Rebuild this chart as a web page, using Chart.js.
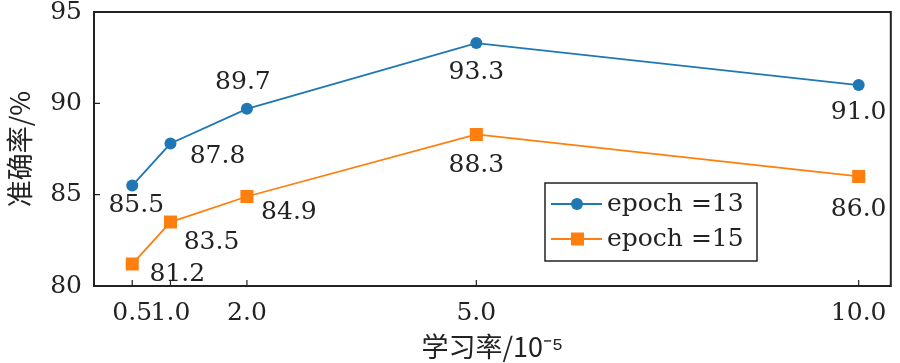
<!DOCTYPE html>
<html>
<head>
<meta charset="utf-8">
<script src="https://cdn.jsdelivr.net/npm/chart.js@4.4.1/dist/chart.umd.min.js"></script>
<style>
  html, body { margin: 0; padding: 0; background: #fff; }
  #wrap { width: 900px; height: 363px; }
</style>
</head>
<body>
<div id="wrap"><canvas id="accChart" width="900" height="363"></canvas></div>
<script>
// learning rate (x 10^-5) and accuracy per epoch setting
const learningRates = [0.5, 1.0, 2.0, 5.0, 10.0];
const epoch13 = [85.5, 87.8, 89.7, 93.3, 91.0];
const epoch15 = [81.2, 83.5, 84.9, 88.3, 86.0];
const xTickValues = [0.5, 1.0, 2.0, 5.0, 10.0];
const yTickValues = [80, 85, 90, 95];

// where each value label sits relative to its point (px)
const labelOffsets13 = [[4, 20], [47, 13], [-4, -26], [0, 29], [0, 27]];
const labelOffsets15 = [[45, 10], [41, 20], [42, 16], [0, 31], [0, 33]];

const serif = '"DejaVu Serif", serif';
const cjk = '"Noto Sans CJK SC", sans-serif';
const blue = '#1f77b4';
const orange = '#ff7f0e';

function toPoints(ys) {
  return learningRates.map((x, i) => ({ x: x, y: ys[i] }));
}

const framePlugin = {
  id: 'frame',
  afterDatasetsDraw(chart) {
    const ctx = chart.ctx;
    const offsets = [labelOffsets13, labelOffsets15];
    ctx.save();
    ctx.font = '25px ' + serif;
    ctx.fillStyle = '#222';
    ctx.textAlign = 'center';
    ctx.textBaseline = 'middle';
    chart.data.datasets.forEach((ds, di) => {
      const meta = chart.getDatasetMeta(di);
      meta.data.forEach((pt, i) => {
        const o = offsets[di][i];
        ctx.fillText(ds.data[i].y.toFixed(1), pt.x + o[0], pt.y + o[1]);
      });
    });
    ctx.restore();
  },
  afterDraw(chart) {
    const ctx = chart.ctx;
    const a = chart.chartArea;
    const xs = chart.scales.x, ys = chart.scales.y;
    ctx.save();
    ctx.strokeStyle = '#222';
    ctx.lineWidth = 2;
    ctx.strokeRect(a.left, a.top, a.right - a.left, a.bottom - a.top);
    ctx.lineWidth = 1.2;
    ctx.beginPath();
    xTickValues.forEach(v => {
      const px = xs.getPixelForValue(v);
      ctx.moveTo(px, a.bottom);
      ctx.lineTo(px, a.bottom - 6);
    });
    yTickValues.forEach(v => {
      const py = ys.getPixelForValue(v);
      ctx.moveTo(a.left, py);
      ctx.lineTo(a.left + 6, py);
    });
    ctx.stroke();

    // legend
    const lx = 545, ly = 183, lw = 212, lh = 78;
    ctx.lineWidth = 1.5;
    ctx.fillStyle = '#fff';
    ctx.fillRect(lx, ly, lw, lh);
    ctx.strokeRect(lx, ly, lw, lh);
    const rows = [
      { label: 'epoch =13', color: blue, shape: 'circle', y: ly + 21 },
      { label: 'epoch =15', color: orange, shape: 'square', y: ly + 56 }
    ];
    rows.forEach(r => {
      ctx.strokeStyle = r.color;
      ctx.lineWidth = 1.8;
      ctx.beginPath();
      ctx.moveTo(lx + 6, r.y);
      ctx.lineTo(lx + 57, r.y);
      ctx.stroke();
      ctx.fillStyle = r.color;
      if (r.shape === 'circle') {
        ctx.beginPath();
        ctx.arc(lx + 32, r.y, 6, 0, Math.PI * 2);
        ctx.fill();
      } else {
        ctx.fillRect(lx + 26, r.y - 6.5, 13, 13);
      }
      ctx.fillStyle = '#222';
      ctx.font = '25px ' + serif;
      ctx.textAlign = 'left';
      ctx.textBaseline = 'middle';
      ctx.fillText(r.label, lx + 62, r.y);
    });
    ctx.restore();
  }
};

const ctx = document.getElementById('accChart').getContext('2d');
const accChart = new Chart(ctx, {
  type: 'line',
  data: {
    datasets: [
      {
        label: 'epoch =13',
        data: toPoints(epoch13),
        borderColor: blue,
        backgroundColor: blue,
        borderWidth: 1.8,
        pointStyle: 'circle',
        pointRadius: 6,
        pointBorderWidth: 0
      },
      {
        label: 'epoch =15',
        data: toPoints(epoch15),
        borderColor: orange,
        backgroundColor: orange,
        borderWidth: 1.8,
        pointStyle: 'rect',
        pointRadius: 9.2,
        pointBorderWidth: 0
      }
    ]
  },
  options: {
    responsive: false,
    animation: false,
    layout: { padding: { top: 12, right: 4, left: 0, bottom: 0 } },
    plugins: {
      legend: { display: false },
      tooltip: { enabled: false }
    },
    scales: {
      x: {
        type: 'linear',
        min: 0,
        max: 10.42,
        afterBuildTicks: s => { s.ticks = xTickValues.map(v => ({ value: v })); },
        afterFit: s => { s.height = 77; s.paddingLeft = 0; s.paddingRight = 0; },
        grid: { display: false, drawTicks: false },
        border: { display: false },
        ticks: {
          padding: 12,
          maxRotation: 0,
          autoSkip: false,
          color: '#222',
          font: { family: serif, size: 25 },
          callback: v => v.toFixed(1)
        },
        title: {
          display: true,
          text: '学习率/10⁻⁵',
          color: '#222',
          padding: { top: 0, bottom: 0 },
          font: { family: cjk, size: 27 }
        }
      },
      y: {
        min: 80,
        max: 95,
        afterBuildTicks: s => { s.ticks = yTickValues.map(v => ({ value: v })); },
        afterFit: s => { s.width = 94; s.paddingTop = 0; s.paddingBottom = 0; },
        grid: { display: false, drawTicks: false },
        border: { display: false },
        ticks: {
          padding: 12,
          color: '#222',
          font: { family: serif, size: 25 }
        },
        title: {
          display: true,
          text: '准确率/%',
          color: '#222',
          padding: { top: 4, bottom: 0 },
          font: { family: cjk, size: 27 }
        }
      }
    }
  },
  plugins: [framePlugin]
});
</script>
</body>
</html>
